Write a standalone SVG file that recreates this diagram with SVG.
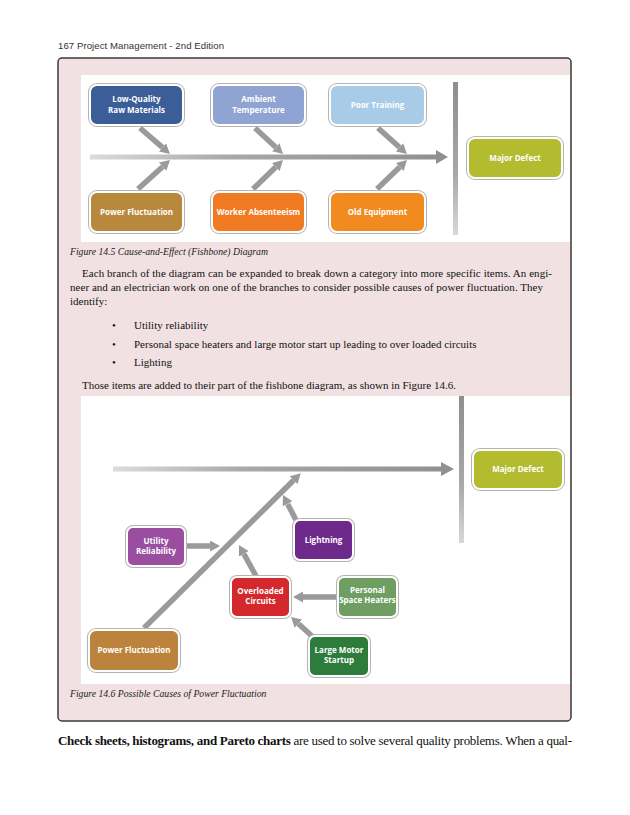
<svg xmlns="http://www.w3.org/2000/svg" width="630" height="815" viewBox="0 0 630 815">
<style>
.hdr{font-family:"Liberation Sans",sans-serif;font-size:9.6px;fill:#333}
.cap{font-family:"Liberation Serif",serif;font-style:italic;font-size:9.7px;fill:#222}
.body{font-family:"Liberation Serif",serif;font-size:11px;fill:#111}
.bot{font-family:"Liberation Serif",serif;font-size:13px;fill:#111}
.lbl{font-family:"Open Sans","Liberation Sans",sans-serif;font-weight:bold;font-size:8px;fill:#fff;text-anchor:middle}
.halo{fill:none;stroke:#b4b4b4;stroke-width:4}
.box{stroke:#fff;stroke-width:2}
.arr{stroke:#9a9a9a;stroke-width:5.5;fill:none;marker-end:url(#ah)}
</style>
<defs>
<marker id="ah" viewBox="0 0 10 10" refX="0" refY="5" markerWidth="10" markerHeight="11" markerUnits="userSpaceOnUse" orient="auto" preserveAspectRatio="none">
<path d="M0,0 L10,5 L0,10 z" fill="#9a9a9a"/>
</marker>
<linearGradient id="hg" x1="0" y1="0" x2="1" y2="0">
<stop offset="0" stop-color="#dcdcdc"/><stop offset="0.4" stop-color="#a8a8a8"/><stop offset="1" stop-color="#909090"/>
</linearGradient>
<linearGradient id="vg" x1="0" y1="0" x2="0" y2="1">
<stop offset="0" stop-color="#8e8e8e"/><stop offset="0.6" stop-color="#a8a8a8"/><stop offset="1" stop-color="#d8d8d8"/>
</linearGradient>
</defs>
<rect width="630" height="815" fill="#fff"/>
<text class="hdr" x="58" y="49" textLength="166" lengthAdjust="spacing">167  Project Management - 2nd Edition</text>
<rect x="58" y="58" width="513" height="663" rx="4" fill="#f1e1e3" stroke="#3a3a3a" stroke-width="1.5"/>
<rect x="81" y="75" width="489" height="167" fill="#fff"/>
<rect x="81" y="396" width="489" height="288" fill="#fff"/>

<g id="connectors">
<rect x="90" y="154.5" width="348" height="5" fill="url(#hg)"/>
<polygon points="436,150 448,157 436,164" fill="#909090"/>
<rect x="453" y="82" width="5" height="153" fill="url(#vg)"/>
<line class="arr" x1="140" y1="128" x2="162.4" y2="147.4"/>
<line class="arr" x1="138" y1="189" x2="162.6" y2="166.7"/>
<line class="arr" x1="255" y1="128" x2="275.7" y2="147.2"/>
<line class="arr" x1="253" y1="189" x2="275.8" y2="167"/>
<line class="arr" x1="378" y1="128" x2="399.5" y2="147.3"/>
<line class="arr" x1="377" y1="189" x2="399.8" y2="167"/>

<rect x="113" y="466.5" width="330" height="5" fill="url(#hg)"/>
<polygon points="441,462 454,469 441,476" fill="#909090"/>
<rect x="459" y="396" width="5" height="147" fill="url(#vg)"/>
<line class="arr" x1="144" y1="628" x2="293.6" y2="480.3"/>
<line class="arr" x1="187" y1="546" x2="210" y2="546"/>
<line class="arr" x1="296" y1="520" x2="287.6" y2="503.9"/>
<line class="arr" x1="256" y1="576" x2="243.8" y2="553.8"/>
<line class="arr" x1="338" y1="597" x2="303" y2="597"/>
<line class="arr" x1="313" y1="637" x2="298.4" y2="623.7"/>
</g>

<g id="n-lowq"><rect class="halo" x="90" y="85" width="93" height="40" rx="7"/><rect class="box" x="90" y="85" width="93" height="40" rx="7" fill="#3b5e98"/><text class="lbl" x="136.5" y="102">Low-Quality</text><text class="lbl" x="136.5" y="113">Raw Materials</text></g>
<g id="n-ambient"><rect class="halo" x="212" y="85" width="93" height="40" rx="7"/><rect class="box" x="212" y="85" width="93" height="40" rx="7" fill="#8fa4d3"/><text class="lbl" x="258.5" y="102">Ambient</text><text class="lbl" x="258.5" y="113">Temperature</text></g>
<g id="n-training"><rect class="halo" x="330" y="85" width="95" height="40" rx="7"/><rect class="box" x="330" y="85" width="95" height="40" rx="7" fill="#a8cbe7"/><text class="lbl" x="377.5" y="108">Poor Training</text></g>
<g id="n-power1"><rect class="halo" x="90" y="192" width="93" height="40" rx="7"/><rect class="box" x="90" y="192" width="93" height="40" rx="7" fill="#b8893d"/><text class="lbl" x="136.5" y="215">Power Fluctuation</text></g>
<g id="n-worker"><rect class="halo" x="212" y="192" width="93" height="40" rx="7"/><rect class="box" x="212" y="192" width="93" height="40" rx="7" fill="#ef7a22"/><text class="lbl" x="258.5" y="215">Worker Absenteeism</text></g>
<g id="n-equip"><rect class="halo" x="330" y="192" width="95" height="40" rx="7"/><rect class="box" x="330" y="192" width="95" height="40" rx="7" fill="#f28b1f"/><text class="lbl" x="377.5" y="215">Old Equipment</text></g>
<g id="n-defect1"><rect class="halo" x="468" y="138" width="94" height="40" rx="7"/><rect class="box" x="468" y="138" width="94" height="40" rx="7" fill="#b3bc2f"/><text class="lbl" x="515" y="161">Major Defect</text></g>

<text class="cap" x="70" y="255">Figure 14.5 Cause-and-Effect (Fishbone) Diagram</text>
<text class="body" x="82" y="277" textLength="470" lengthAdjust="spacing">Each branch of the diagram can be expanded to break down a category into more specific items.  An engi-</text>
<text class="body" x="70" y="291" textLength="473" lengthAdjust="spacing">neer and an electrician work on one of the branches to consider possible causes of power fluctuation. They</text>
<text class="body" x="70" y="305">identify:</text>
<text class="body" x="112" y="329">•</text><text class="body" x="134" y="329">Utility reliability</text>
<text class="body" x="112" y="348">•</text><text class="body" x="134" y="348">Personal space heaters and large motor start up leading to over loaded circuits</text>
<text class="body" x="112" y="366">•</text><text class="body" x="134" y="366">Lighting</text>
<text class="body" x="82" y="389">Those items are added to their part of the fishbone diagram, as shown in Figure 14.6.</text>

<g id="n-defect2"><rect class="halo" x="473" y="450" width="90" height="39" rx="7"/><rect class="box" x="473" y="450" width="90" height="39" rx="7" fill="#b3bc2f"/><text class="lbl" x="518" y="472">Major Defect</text></g>
<g id="n-utility"><rect class="halo" x="127" y="527" width="58" height="39" rx="6"/><rect class="box" x="127" y="527" width="58" height="39" rx="6" fill="#9b4e9f"/><text class="lbl" x="156" y="544">Utility</text><text class="lbl" x="156" y="554">Reliability</text></g>
<g id="n-lightning"><rect class="halo" x="294" y="520" width="59" height="40" rx="6"/><rect class="box" x="294" y="520" width="59" height="40" rx="6" fill="#6d2a8b"/><text class="lbl" x="323.5" y="543">Lightning</text></g>
<g id="n-overload"><rect class="halo" x="231" y="577" width="59" height="40" rx="6"/><rect class="box" x="231" y="577" width="59" height="40" rx="6" fill="#d3282c"/><text class="lbl" x="260.5" y="594">Overloaded</text><text class="lbl" x="260.5" y="604">Circuits</text></g>
<g id="n-heaters"><rect class="halo" x="338" y="577" width="59" height="40" rx="6"/><rect class="box" x="338" y="577" width="59" height="40" rx="6" fill="#6f9e63"/><text class="lbl" x="367.5" y="593">Personal</text><text class="lbl" x="367.5" y="603">Space Heaters</text></g>
<g id="n-motor"><rect class="halo" x="309" y="636" width="60" height="40" rx="6"/><rect class="box" x="309" y="636" width="60" height="40" rx="6" fill="#2e7c3b"/><text class="lbl" x="339" y="653">Large Motor</text><text class="lbl" x="339" y="663">Startup</text></g>
<g id="n-power2"><rect class="halo" x="89" y="630" width="90" height="41" rx="7"/><rect class="box" x="89" y="630" width="90" height="41" rx="7" fill="#bb833b"/><text class="lbl" x="134" y="653">Power Fluctuation</text></g>

<text class="cap" x="70" y="697">Figure 14.6 Possible Causes of Power Fluctuation</text>
<text class="bot" x="58" y="745" textLength="514" lengthAdjust="spacing"><tspan font-weight="bold">Check sheets, histograms, and Pareto charts</tspan> are used to solve several quality problems. When a qual-</text>
</svg>
